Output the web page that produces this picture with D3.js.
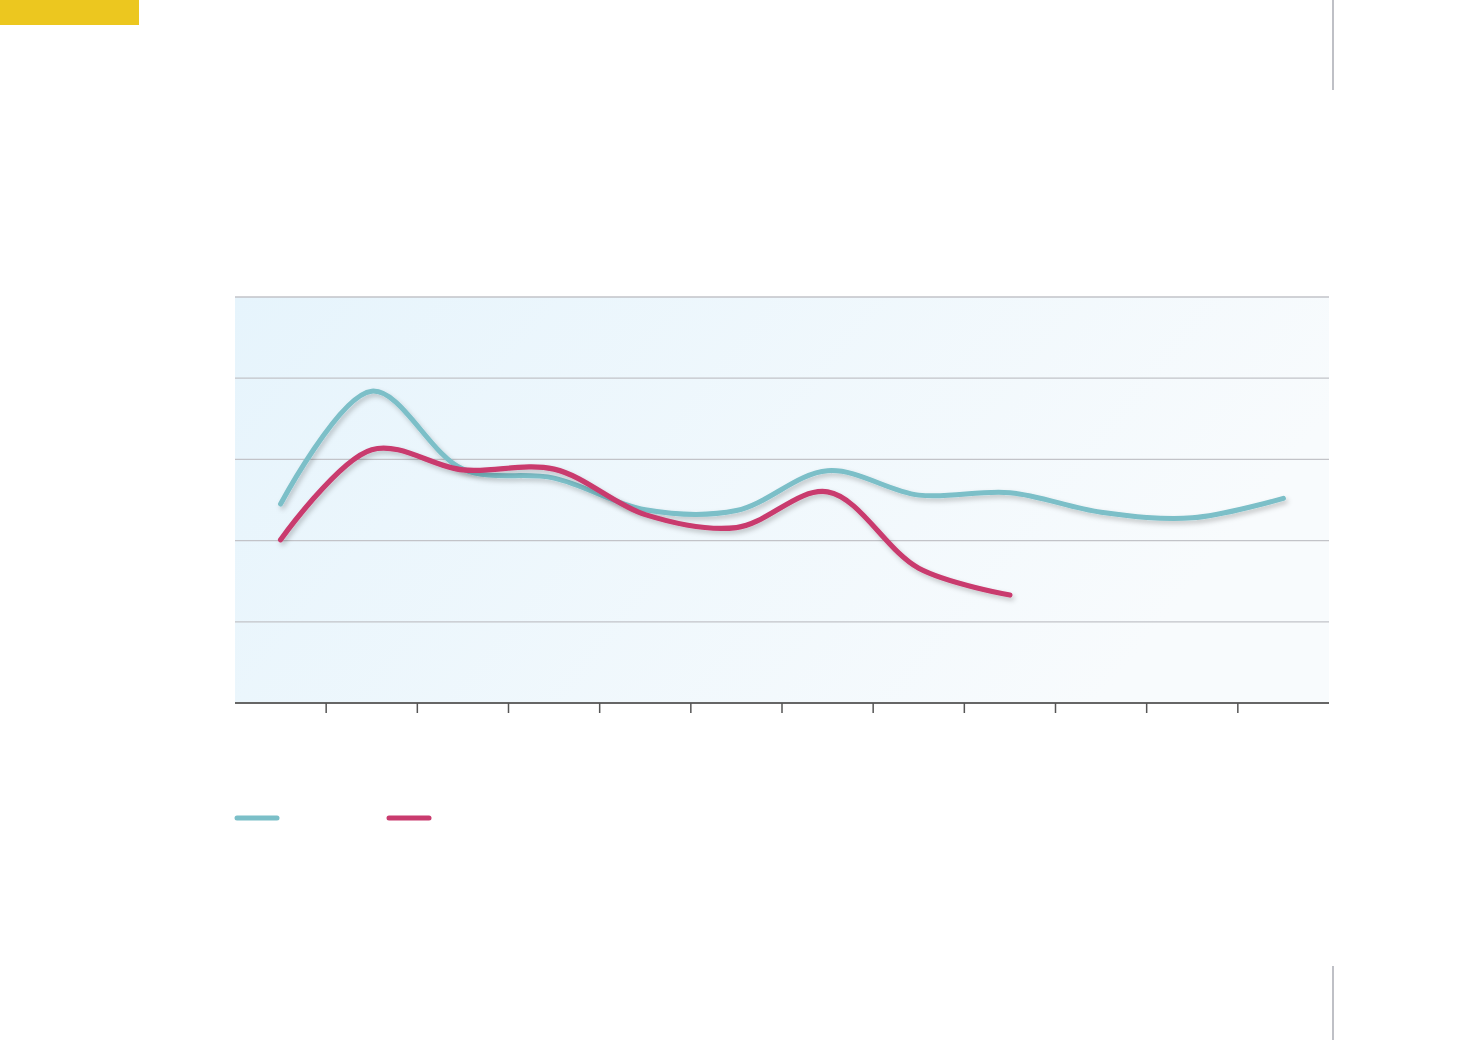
<!DOCTYPE html>
<html><head><meta charset="utf-8">
<script src="https://cdn.jsdelivr.net/npm/d3@7"></script>
<style>html,body{margin:0;padding:0;background:#fff;}svg{display:block;}</style>
</head><body>
<svg id="c" width="1471" height="1040"></svg>
<script>
const categories = ["1","2","3","4","5","6","7","8","9","10","11","12"];
const seriesA = [2.45, 3.84, 2.88, 2.77, 2.38, 2.37, 2.86, 2.56, 2.59, 2.35, 2.28, 2.52];
const seriesB = [2.01, 3.12, 2.87, 2.88, 2.32, 2.16, 2.60, 1.66, 1.33];
const yTicks = [0, 1, 2, 3, 4, 5];

const svg = d3.select("#c");
const L = 235, R = 1329, T = 297, B = 703;

const defs = svg.append("defs");
const grad = defs.append("linearGradient").attr("id","bg").attr("x1","0").attr("y1","0").attr("x2","1").attr("y2","0.3");
grad.append("stop").attr("offset","0").attr("stop-color","#e6f4fc");
grad.append("stop").attr("offset","1").attr("stop-color","#f8fbfd");
const f = defs.append("filter").attr("id","sh").attr("x","-10%").attr("y","-20%").attr("width","120%").attr("height","140%");
f.append("feDropShadow").attr("dx",2).attr("dy",3).attr("stdDeviation",2.5).attr("flood-color","#000").attr("flood-opacity",0.22);

// decorations
svg.append("rect").attr("x",0).attr("y",0).attr("width",139).attr("height",25).attr("fill","#ecc71f");
svg.append("line").attr("x1",1333).attr("x2",1333).attr("y1",0).attr("y2",90).attr("stroke","#bfc0c6").attr("stroke-width",2);
svg.append("line").attr("x1",1333).attr("x2",1333).attr("y1",966).attr("y2",1040).attr("stroke","#bfc0c6").attr("stroke-width",2);

const x = d3.scaleBand().domain(categories).range([L, R]);
const y = d3.scaleLinear().domain([0, 5]).range([B, T]);

svg.append("rect").attr("x",L).attr("y",T).attr("width",R-L).attr("height",B-T).attr("fill","url(#bg)");

svg.append("g").selectAll("line").data(yTicks.filter(d=>d>0)).join("line")
  .attr("x1",L).attr("x2",R).attr("y1",d=>y(d)).attr("y2",d=>y(d))
  .attr("stroke","#c2c3c8").attr("stroke-width",1.3);

// x axis
const xAxis = svg.append("g").attr("transform",`translate(0,${B})`);
xAxis.append("line").attr("x1",L).attr("x2",R).attr("stroke","#666").attr("stroke-width",2);
const bounds = categories.slice(1).map(c=>x(c));
xAxis.selectAll("line.t").data(bounds).join("line").attr("class","t")
  .attr("x1",d=>d).attr("x2",d=>d).attr("y1",0).attr("y2",10)
  .attr("stroke","#555").attr("stroke-width",1.5);

const line = d3.line()
  .x((d,i)=>x(categories[i]) + x.bandwidth()/2)
  .y(d=>y(d))
  .curve(d3.curveCatmullRom.alpha(0.5));

svg.append("path").datum(seriesA).attr("d",line).attr("fill","none")
  .attr("stroke","#7bbfc8").attr("stroke-width",5).attr("stroke-linecap","round").attr("filter","url(#sh)");
svg.append("path").datum(seriesB).attr("d",line).attr("fill","none")
  .attr("stroke","#c93b6e").attr("stroke-width",5.2).attr("stroke-linecap","round").attr("filter","url(#sh)");

// legend
const leg = [{c:"#7bbfc8",x:237},{c:"#c93b6e",x:389}];
svg.append("g").selectAll("line").data(leg).join("line")
  .attr("x1",d=>d.x).attr("x2",d=>d.x+40).attr("y1",818).attr("y2",818)
  .attr("stroke",d=>d.c).attr("stroke-width",5).attr("stroke-linecap","round");
</script>
</body></html>
